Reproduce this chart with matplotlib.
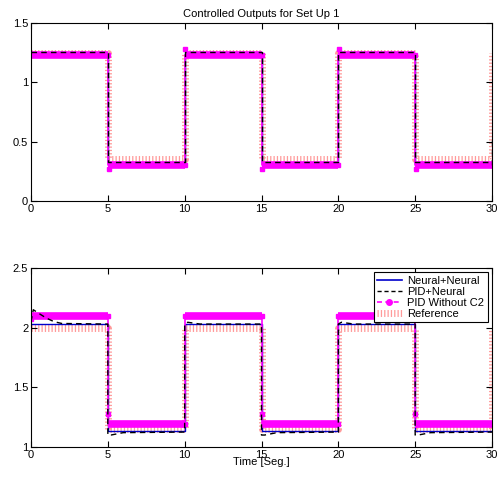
import matplotlib
matplotlib.use("Agg")
import matplotlib.pyplot as plt
from matplotlib.lines import Line2D

plt.rcParams["font.family"] = ["Liberation Sans", "DejaVu Sans"]
plt.rcParams["font.size"] = 8

# step corners (time) shared by all series
t_steps = [0, 5, 5, 10, 10, 15, 15, 20, 20, 25, 25, 30]
t_ref = [0, 5, 5, 10, 10, 15, 15, 20, 20, 25, 25, 30, 30]

# --- set up 1, top plot
top_ref = [1.25, 1.25, 0.35, 0.35, 1.25, 1.25, 0.35, 0.35, 1.25, 1.25, 0.35, 0.35, 1.25]
top_nn = [1.24, 1.24, 0.31, 0.31, 1.24, 1.24, 0.31, 0.31, 1.24, 1.24, 0.31, 0.31]
top_pidn = [1.255, 1.255, 0.33, 0.33, 1.255, 1.255, 0.33, 0.33, 1.255, 1.255, 0.33, 0.33]
top_pid = [1.23, 1.23, 0.30, 0.30, 1.23, 1.23, 0.30, 0.30, 1.23, 1.23, 0.30, 0.30]
top_pid_mk_t = [0, 5, 5.05, 10, 10.05, 15, 15.05, 20, 20.05, 25, 25.05, 30]
top_pid_mk_y = [1.24, 1.23, 0.27, 0.30, 1.28, 1.23, 0.27, 0.30, 1.28, 1.23, 0.27, 0.30]

# --- bottom plot
bot_ref = [2.0, 2.0, 1.15, 1.15, 2.0, 2.0, 1.15, 1.15, 2.0, 2.0, 1.15, 1.15, 2.0]
bot_nn = [2.03, 2.03, 1.13, 1.13, 2.03, 2.03, 1.13, 1.13, 2.03, 2.03, 1.13, 1.13]
bot_pidn_t = [0, 0.15, 0.5, 1, 1.5, 2, 5, 5, 5.2, 6, 10, 10, 10.2, 11, 15, 15, 15.2, 16, 20, 20, 20.2, 21, 25, 25, 25.2, 26, 30]
bot_pidn_y = [2.05, 2.15, 2.12, 2.08, 2.05, 2.035, 2.03, 1.10, 1.10, 1.12, 1.125, 2.03, 2.045, 2.03, 2.03, 1.10, 1.10, 1.12, 1.125, 2.03, 2.045, 2.03, 2.03, 1.10, 1.10, 1.12, 1.125]
bot_pid = [2.10, 2.10, 1.19, 1.19, 2.10, 2.10, 1.19, 1.19, 2.10, 2.10, 1.19, 1.19]
bot_pid_mk_t = [0, 5, 5, 10, 10, 15, 15, 20, 20, 25, 25, 30]
bot_pid_mk_y = [2.07, 2.10, 1.28, 1.19, 2.10, 2.10, 1.28, 1.19, 2.10, 2.10, 1.28, 1.19]

MAG = "#ff00ff"
REF = "#ff9a9a"

fig = plt.figure(figsize=(5.0, 4.78), dpi=100)
ax1 = fig.add_axes([0.062, 0.5795, 0.922, 0.3724])
ax2 = fig.add_axes([0.062, 0.0649, 0.922, 0.3745])

def draw(ax, ref, nn, pidn_t, pidn_y, pid, mk_t, mk_y):
    ax.plot(t_ref, ref, color=REF, lw=5, ls=(0, (0.18, 0.3)), solid_capstyle="butt", zorder=1)
    ax.plot(t_steps, nn, color="#0000cc", lw=1, zorder=1.5)
    # thick magenta band only along the flat parts, thin line on the jumps
    for i in range(0, len(t_steps), 2):
        ax.plot(t_steps[i:i + 2], pid[i:i + 2], color=MAG, lw=5.5, solid_capstyle="butt", zorder=2)
    ax.plot(t_steps, pid, color=MAG, lw=1.2, zorder=2)
    ax.plot(mk_t, mk_y, color=MAG, lw=0, marker="s", ms=3.5, zorder=2)
    ax.plot(pidn_t, pidn_y, color="k", lw=1, ls=(0, (4, 3)), zorder=4)
    ax.set_xlim(0, 30)
    ax.set_xticks([0, 5, 10, 15, 20, 25, 30])
    ax.tick_params(direction="in", top=True, right=True, length=4, pad=2, labelsize=8)
    for s in ax.spines.values():
        s.set_linewidth(0.8)

draw(ax1, top_ref, top_nn, t_steps, top_pidn, top_pid, top_pid_mk_t, top_pid_mk_y)
ax1.plot([30, 30], [0.30, 0.55], color="k", lw=1, ls=(0, (4, 3)), zorder=4)
ax1.set_ylim(0, 1.5)
ax1.set_yticks([0, 0.5, 1, 1.5])
ax1.set_yticklabels(["0", "0.5", "1", "1.5"])
ax1.set_title("Controlled Outputs for Set Up 1", fontsize=8, pad=4)

draw(ax2, bot_ref, bot_nn, bot_pidn_t, bot_pidn_y, bot_pid, bot_pid_mk_t, bot_pid_mk_y)
ax2.set_ylim(1, 2.5)
ax2.set_yticks([1, 1.5, 2, 2.5])
ax2.set_yticklabels(["1", "1.5", "2", "2.5"])
ax2.set_xlabel("Time [Seg.]", fontsize=8, labelpad=-2)

handles = [
    Line2D([], [], color="#0000cc", lw=1.2),
    Line2D([], [], color="k", lw=1, ls=(0, (3, 2))),
    Line2D([], [], color=MAG, lw=1.2, ls=(0, (3, 2)), marker="o", ms=4),
    Line2D([], [], color=REF, lw=5, ls=(0, (0.18, 0.3))),
]
labels = ["Neural+Neural", "PID+Neural", "PID Without C2", "Reference"]
leg = ax2.legend(handles, labels, loc="upper right", fontsize=8, frameon=True, fancybox=False,
                 edgecolor="k", framealpha=1, borderpad=0.3, labelspacing=0.1,
                 handlelength=2.2, handletextpad=0.5, borderaxespad=0.4)
leg.get_frame().set_linewidth(0.8)

fig.savefig("out.png", dpi=100)
